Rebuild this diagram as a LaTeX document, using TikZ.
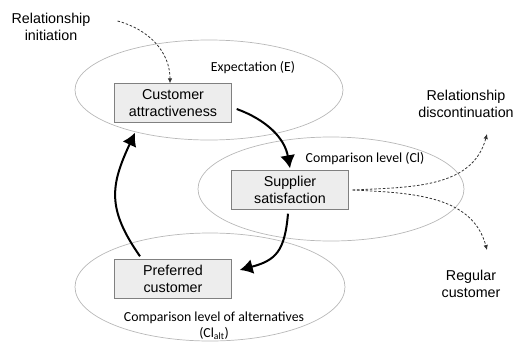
\documentclass[tikz,border=0pt]{standalone}
\usepackage{fontspec}
\setmainfont{Liberation Sans}
\newfontfamily\calfont{Carlito}
\usepackage{tikz}
\usetikzlibrary{arrows.meta,positioning}
\tikzset{
  stagebox/.style  = {draw=black!50, fill=black!7, minimum width=117pt,
                      minimum height=39pt, align=center, inner sep=2pt,
                      font=\fontsize{14.3}{17}\selectfont},
  levelring/.style = {draw=black!28, line width=0.7pt},
  levellabel/.style= {align=center, inner sep=0pt,
                      font=\calfont\fontsize{13.8}{16}\selectfont},
  outlabel/.style  = {align=center, inner sep=0pt,
                      font=\fontsize{14.3}{17}\selectfont},
  flow/.style      = {-{Latex[length=13pt,width=15pt]}, line width=2pt},
  maybe/.style     = {-{Latex[length=5pt,width=4.5pt]}, draw=black!80,
                      line width=0.8pt, dash pattern=on 2.5pt off 1.8pt},
}

\begin{document}
\begin{tikzpicture}[x=1pt,y=1pt]
\useasboundingbox (0,0) rectangle (516,-343);
% comparison levels
\draw[levelring] (209,-90) ellipse [x radius=134, y radius=50];
\draw[levelring] (331,-189) ellipse [x radius=133, y radius=52];
\draw[levelring] (210,-287) ellipse [x radius=135, y radius=54];
\node[levellabel] (labE) at (253,-68) {Expectation (E)};
\node[levellabel] (labCl) at (365,-159) {Comparison level (Cl)};
\node[levellabel] (labAlt) at (214,-326) {Comparison level of alternatives\\(Cl\textsubscript{alt})};
% stages
\node[stagebox] (attract) at (173,-103) {Customer\\attractiveness};
\node[stagebox] (satisf) at (290,-190) {Supplier\\satisfaction};
\node[stagebox] (preferred) at (173,-279) {Preferred\\customer};
% outside states
\node[outlabel] (init) at (51,-27) {Relationship\\initiation};
\node[outlabel] (discont) at (466,-104) {Relationship\\discontinuation};
\node[outlabel] (regular) at (471,-284) {Regular\\customer};
% cycle
\draw[flow] ([shift={(5pt,-6pt)}]attract.east) to[out=-20,in=100] ([yshift=2pt]satisf.north);
\draw[flow] ([shift={(-2pt,-4pt)}]satisf.south) to[out=-95,in=15,looseness=1.3] ([shift={(8pt,9pt)}]preferred.east);
\draw[flow] ([shift={(-33pt,3pt)}]preferred.north) to[out=125,in=-115,looseness=1.2] ([shift={(-38pt,-10pt)}]attract.south);
% entry and exits
\draw[maybe] ([shift={(27pt,6pt)}]init.east) to[out=-15,in=90] ([xshift=-3pt]attract.north);
\draw[maybe] ([xshift=4pt]satisf.east) to[out=3,in=-105] ([shift={(21pt,-16pt)}]discont.south);
\draw[maybe] ([xshift=4pt]satisf.east) to[out=-3,in=105] ([shift={(16pt,20pt)}]regular.north);
\end{tikzpicture}
\end{document}
